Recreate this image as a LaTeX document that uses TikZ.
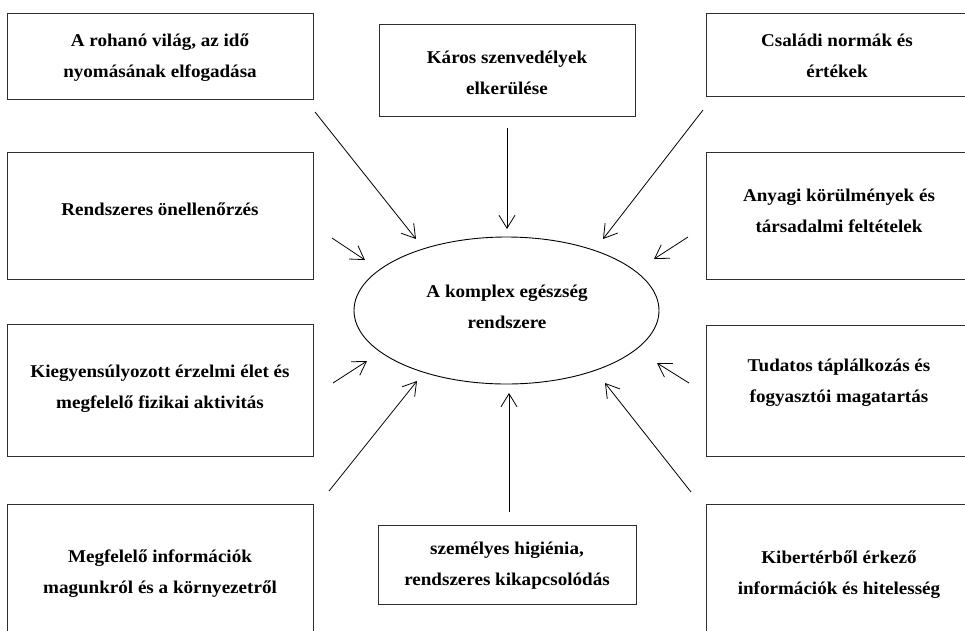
\documentclass[tikz,border=0pt]{standalone}
\usepackage{fontspec}
\setmainfont{Liberation Serif}[FakeStretch=1.06]
\usetikzlibrary{shapes.geometric,arrows.meta}
% two centred lines whose last baseline is the node's base
\newcommand\twoline[2]{\begin{tabular}[b]{@{}c@{}}#1\\#2\end{tabular}}
\begin{document}
\begin{tikzpicture}[x=1pt,y=-1pt,
  box/.style={draw=black!82, line width=1pt, rectangle, inner sep=0pt, outer sep=0pt},
  hubshape/.style={draw=black, line width=0.9pt, ellipse, inner sep=0pt,
    minimum width=305pt, minimum height=147pt},
  lbl/.style={anchor=base, inner sep=0pt, font=\bfseries\fontsize{18}{31}\selectfont},
  arr/.style={-{Straight Barb[length=13pt,width=16pt]}, line width=0.8pt, black}]
\useasboundingbox (0,0) rectangle (965,630);
\fill[white] (0,0) rectangle (965,630);

% outer boxes
\node[box, minimum width=306pt, minimum height=86pt]  (b1)  at (160,56)    {};
\node[box, minimum width=256pt, minimum height=92pt]  (b2)  at (507,70)    {};
\node[box, minimum width=264pt, minimum height=83pt]  (b3)  at (838,54.5)  {};
\node[box, minimum width=306pt, minimum height=127pt] (b4)  at (160,215.5) {};
\node[box, minimum width=264pt, minimum height=127pt] (b5)  at (838,215.5) {};
\node[box, minimum width=306pt, minimum height=132pt] (b6)  at (160,390)   {};
\node[box, minimum width=264pt, minimum height=131pt] (b7)  at (838,390.5) {};
\node[box, minimum width=306pt, minimum height=141pt] (b8)  at (160,574.5) {};
\node[box, minimum width=264pt, minimum height=141pt] (b9)  at (838,574.5) {};
\node[box, minimum width=258pt, minimum height=79pt]  (b10) at (507,564.5) {};

% central ellipse
\node[hubshape] (hub) at (506.5,310.5) {};

% texts
\node[lbl] (t1)  at (160,77)  {\twoline{A rohanó világ, az idő}{nyomásának elfogadása}};
\node[lbl] (t2)  at (507,94)  {\twoline{Káros szenvedélyek}{elkerülése}};
\node[lbl] (t3)  at (837,77)  {\twoline{Családi normák és}{értékek}};
\node[lbl] (t4)  at (160,215) {Rendszeres önellenőrzés};
\node[lbl] (t5)  at (839,232) {\twoline{Anyagi körülmények és}{társadalmi feltételek}};
\node[lbl] (t6)  at (160,408) {\twoline{Kiegyensúlyozott érzelmi élet és}{megfelelő fizikai aktivitás}};
\node[lbl] (t7)  at (839,402) {\twoline{Tudatos táplálkozás és}{fogyasztói magatartás}};
\node[lbl] (t8)  at (160,593) {\twoline{Megfelelő információk}{magunkról és a környezetről}};
\node[lbl] (t9)  at (839,594) {\twoline{Kibertérből érkező}{információk és hitelesség}};
\node[lbl] (t10) at (507,585) {\twoline{személyes higiénia,}{rendszeres kikapcsolódás}};
\node[lbl] (th)  at (507,328) {\twoline{A komplex egészség}{rendszere}};

% arrow end points
\coordinate (s1)  at (315,112);  \coordinate (e1)  at (416,239);
\coordinate (s2)  at (507,128);  \coordinate (e2)  at (507,229);
\coordinate (s3)  at (703,110);  \coordinate (e3)  at (603,239);
\coordinate (s4)  at (332,238);  \coordinate (e4)  at (365,260);
\coordinate (s5)  at (688,237);  \coordinate (e5)  at (654,259);
\coordinate (s6)  at (333,383);  \coordinate (e6)  at (367,361);
\coordinate (s7)  at (689,383);  \coordinate (e7)  at (657,363);
\coordinate (s8)  at (329,491);  \coordinate (e8)  at (417,381);
\coordinate (s9)  at (509,512);  \coordinate (e9)  at (509,393);
\coordinate (s10) at (691,492);  \coordinate (e10) at (605,383);

% arrows pointing at the ellipse
\foreach \i in {1,...,10} \draw[arr] (s\i) -- (e\i);
\end{tikzpicture}
\end{document}
